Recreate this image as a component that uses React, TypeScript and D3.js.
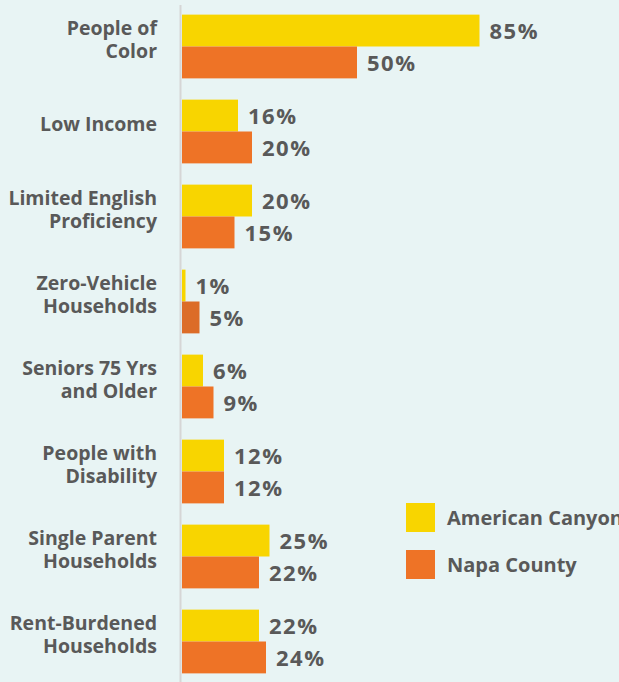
import React, { useEffect, useRef } from 'react';
import * as d3 from 'd3';

// Chart data
const categories = [
  ['People of', 'Color'],
  ['Low Income'],
  ['Limited English', 'Proficiency'],
  ['Zero-Vehicle', 'Households'],
  ['Seniors 75 Yrs', 'and Older'],
  ['People with', 'Disability'],
  ['Single Parent', 'Households'],
  ['Rent-Burdened', 'Households'],
];
const americanCanyon = [85, 16, 20, 1, 6, 12, 25, 22];
const napaCounty = [50, 20, 15, 5, 9, 12, 22, 24];
const seriesNames = ['American Canyon', 'Napa County'];
const seriesColors = ['#f8d500', '#ee7326'];

const W = 619;
const H = 682;

const App = () => {
  const ref = useRef<SVGSVGElement>(null);

  useEffect(() => {
    const svg = d3.select(ref.current);
    svg.selectAll('*').remove();

    const font = '"Open Sans", sans-serif';
    const gray = '#595959';

    svg.append('rect').attr('width', W).attr('height', H).attr('fill', '#e8f4f4');

    const x = d3.scaleLinear().domain([0, 100]).range([182, 532]);
    const y = d3.scaleBand<number>()
      .domain(d3.range(categories.length))
      .range([4, 684])
      .paddingInner(0.25)
      .paddingOuter(0.125);
    const sub = d3.scaleBand<number>().domain([0, 1]).range([0, y.bandwidth()]);

    // axis line
    svg.append('line')
      .attr('x1', 180.5).attr('x2', 180.5)
      .attr('y1', 5).attr('y2', H)
      .attr('stroke', '#d6d6d6').attr('stroke-width', 2);

    const series = [americanCanyon, napaCounty];
    series.forEach((vals, si) => {
      const g = svg.append('g');
      g.selectAll('rect')
        .data(vals)
        .enter()
        .append('rect')
        .attr('x', x(0))
        .attr('y', (_, i) => y(i)! + sub(si)!)
        .attr('width', d => x(d) - x(0))
        .attr('height', sub.bandwidth())
        .attr('fill', (_, i) => (si === 1 && i === 3 ? '#dc6c28' : seriesColors[si]));

      g.selectAll('text')
        .data(vals)
        .enter()
        .append('text')
        .attr('x', d => x(d) + 10)
        .attr('y', (_, i) => y(i)! + sub(si)! + sub.bandwidth() / 2 + 1)
        .attr('dy', '0.36em')
        .attr('font-family', font)
        .attr('font-weight', 'bold')
        .attr('font-size', 22)
        .attr('letter-spacing', 1.5)
        .attr('fill', gray)
        .text(d => `${d}%`);
    });

    // category labels
    const labels = svg.append('g');
    categories.forEach((lines, i) => {
      const cy = y(i)! + y.bandwidth() / 2 - 7;
      const t = labels.append('text')
        .attr('text-anchor', 'end')
        .attr('font-family', font)
        .attr('font-weight', 'bold')
        .attr('font-size', 19.5)
        .attr('fill', gray);
      lines.forEach((line, li) => {
        t.append('tspan')
          .attr('x', 157)
          .attr('y', cy + (li - (lines.length - 1) / 2) * 23.5)
          .attr('dy', '0.35em')
          .text(line);
      });
    });

    // legend
    const legend = svg.append('g');
    seriesNames.forEach((name, i) => {
      const ly = 503 + i * 47;
      legend.append('rect')
        .attr('x', 406).attr('y', ly)
        .attr('width', 29).attr('height', 29)
        .attr('fill', seriesColors[i]);
      legend.append('text')
        .attr('x', 447).attr('y', ly + 14.5)
        .attr('dy', '0.36em')
        .attr('font-family', font)
        .attr('font-weight', 'bold')
        .attr('font-size', 20)
        .attr('fill', gray)
        .text(name);
    });
  }, []);

  return <svg ref={ref} width={W} height={H} style={{ display: 'block', position: 'absolute', left: 0, top: 0 }} />;
};

export default App;
